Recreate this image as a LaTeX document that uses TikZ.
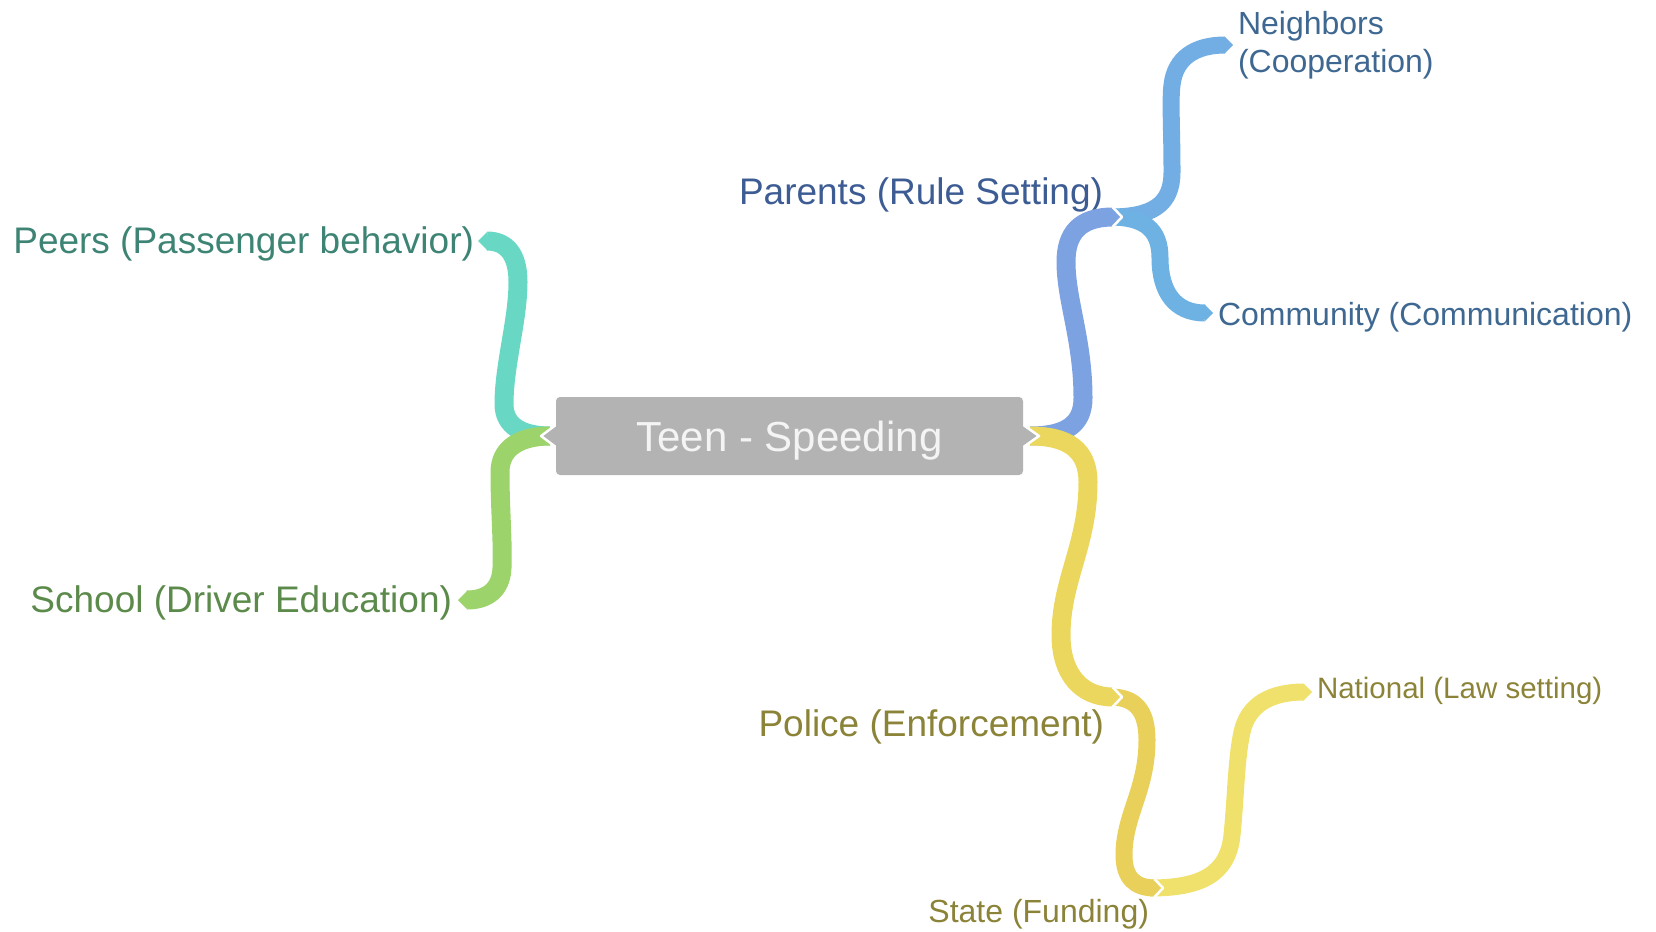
\documentclass[tikz,border=0pt]{standalone}
\usepackage{fontspec}
\setmainfont{Liberation Sans}
\begin{document}
\begin{tikzpicture}[x=1pt,y=-1pt,line cap=butt,line join=round,
  lone/.style={line width=19pt},
  ltwo/.style={line width=17pt},
  halo/.style={draw=white,line width=2.5pt},
  lbl/.style={inner sep=0pt,outer sep=0pt},
  fA/.style={font=\fontsize{37}{44}\selectfont},
  fB/.style={font=\fontsize{32}{37}\selectfont},
  fC/.style={font=\fontsize{29.5}{35}\selectfont},
  box/.style={rectangle,rounded corners=4pt,fill=cbox,text=tbox,minimum width=467pt,minimum height=78pt,inner sep=0pt,text depth=0pt,font=\fontsize{42}{50}\selectfont}]
\definecolor{cteal}{HTML}{68D8C5}\definecolor{tpeers}{HTML}{3E8474}
\definecolor{cgreen}{HTML}{9CD46B}\definecolor{tschool}{HTML}{5B8A4B}
\definecolor{cparent}{HTML}{7CA2E2}\definecolor{tparent}{HTML}{3D5C94}
\definecolor{cnb}{HTML}{72AEE4}\definecolor{ccom}{HTML}{6EB2E3}\definecolor{tnb}{HTML}{3E6891}
\definecolor{cpolice}{HTML}{EBD75E}\definecolor{cstate}{HTML}{E9D05A}\definecolor{cnat}{HTML}{F0E16C}
\definecolor{tyel}{HTML}{8B8338}
\definecolor{cbox}{HTML}{B3B3B3}\definecolor{tbox}{HTML}{F4F4F4}
\useasboundingbox (0,0) rectangle (1656,931);

% labels
\node[lbl,fA,text=tpeers,anchor=base east] (peers) at (474,253.5) {Peers (Passenger behavior)};
\node[lbl,fA,text=tschool,anchor=base east] (school) at (452,612.5) {School (Driver Education)};
\node[lbl,fA,text=tparent,anchor=base east] (parents) at (1103,204) {Parents (Rule Setting)};
\node[lbl,fA,text=tyel,anchor=base east] (police) at (1104,736) {Police (Enforcement)};
\node[lbl,fB,text=tnb,anchor=base west] (nb1) at (1238,35) {Neighbors};
\node[lbl,fB,text=tnb,anchor=base west] (nb2) at (1238,72.5) {(Cooperation)};
\node[lbl,fB,text=tnb,anchor=base west] (comm) at (1218,325) {Community (Communication)};
\node[lbl,fC,text=tyel,anchor=base west] (national) at (1317,698) {National (Law setting)};
\node[lbl,fB,text=tyel,anchor=base east] (state) at (1149,922) {State (Funding)};

% junction points
\coordinate (cL) at (541,436);
\coordinate (cR) at (1039,436);
\coordinate (jPar) at (1122,217);
\coordinate (jPol) at (1122,697);
\coordinate (jSta) at (1163,888);
\coordinate (tPeers) at (478,241);
\coordinate (tSchool) at (458,600);
\coordinate (tNb) at (1233,45);
\coordinate (tCom) at (1213,313);
\coordinate (tNat) at (1312,692);

% National (State -> National)
\draw[ltwo,cnat] ([xshift=-13pt]jSta) .. controls (1200,888) and (1228,875) .. (1232,835)
  .. controls (1236,795) and (1236,760) .. (1242,732)
  .. controls (1248,705) and (1270,692) .. ([xshift=-8pt]tNat);
\fill[cnat] ([xshift=-8.5pt,yshift=-8.5pt]tNat) -- (tNat) -- ([xshift=-8.5pt,yshift=8.5pt]tNat) -- cycle;

% State (Police -> State)
\draw[ltwo,cstate] ([xshift=-12pt]jPol) .. controls (1135,697) and (1147,710) .. (1147,740)
  .. controls (1147,790) and (1124,815) .. (1124,855)
  .. controls (1124,878) and (1135,888) .. ([xshift=-8pt]jSta);
\fill[cstate] ([xshift=-8.5pt,yshift=-8.5pt]jSta) -- (jSta) -- ([xshift=-8.5pt,yshift=8.5pt]jSta) -- cycle;
\draw[halo] ([xshift=-8.5pt,yshift=-9pt]jSta) -- (jSta) -- ([xshift=-8.5pt,yshift=9pt]jSta);

% Neighbors and Community (Parents -> ...)
\draw[ltwo,cnb] ([xshift=-12pt]jPar) .. controls (1152,217) and (1172,205) .. (1172,172)
  .. controls (1172,130) and (1170,100) .. (1172,85)
  .. controls (1175,58) and (1195,45) .. ([xshift=-8pt]tNb);
\fill[cnb] ([xshift=-8.5pt,yshift=-8.5pt]tNb) -- (tNb) -- ([xshift=-8.5pt,yshift=8.5pt]tNb) -- cycle;
\draw[ltwo,ccom] ([xshift=-12pt]jPar) .. controls (1145,217) and (1160,230) .. (1160,258)
  .. controls (1160,292) and (1175,313) .. ([xshift=-8pt]tCom);
\fill[ccom] ([xshift=-8.5pt,yshift=-8.5pt]tCom) -- (tCom) -- ([xshift=-8.5pt,yshift=8.5pt]tCom) -- cycle;

% Parents (center -> Parents)
\draw[lone,cparent] ([xshift=-9pt]cR) .. controls (1065,436) and (1083,425) .. (1083,398)
  .. controls (1083,340) and (1066,300) .. (1066,262)
  .. controls (1066,233) and (1080,217) .. ([xshift=-9pt]jPar);
\fill[cparent] ([xshift=-9.5pt,yshift=-9.5pt]jPar) -- (jPar) -- ([xshift=-9.5pt,yshift=9.5pt]jPar) -- cycle;
\draw[halo] ([xshift=-9.5pt,yshift=-10pt]jPar) -- (jPar) -- ([xshift=-9.5pt,yshift=10pt]jPar);

% Police (center -> Police)
\draw[lone,cpolice] ([xshift=-9pt]cR) .. controls (1068,436) and (1088,450) .. (1088,482)
  .. controls (1088,545) and (1061,580) .. (1061,635)
  .. controls (1061,675) and (1082,697) .. ([xshift=-9pt]jPol);
\fill[cpolice] ([xshift=-9.5pt,yshift=-9.5pt]jPol) -- (jPol) -- ([xshift=-9.5pt,yshift=9.5pt]jPol) -- cycle;
\draw[halo] ([xshift=-9.5pt,yshift=-10pt]jPol) -- (jPol) -- ([xshift=-9.5pt,yshift=10pt]jPol);

% Peers and School (center -> left)
\draw[lone,cteal] ([xshift=9pt]cL) .. controls (522,436) and (504,426) .. (504,404)
  .. controls (504,365) and (518,320) .. (518,282)
  .. controls (518,255) and (507,241) .. ([xshift=9pt]tPeers);
\fill[cteal] ([xshift=9.5pt,yshift=-9.5pt]tPeers) -- (tPeers) -- ([xshift=9.5pt,yshift=9.5pt]tPeers) -- cycle;
\draw[lone,cgreen] ([xshift=9pt]cL) .. controls (520,436) and (500,448) .. (500,472)
  .. controls (500,510) and (503,540) .. (502,568)
  .. controls (501,590) and (487,600) .. ([xshift=9pt]tSchool);
\fill[cgreen] ([xshift=9.5pt,yshift=-9.5pt]tSchool) -- (tSchool) -- ([xshift=9.5pt,yshift=9.5pt]tSchool) -- cycle;

% center box with pointed sides
\fill[cbox] (557,425) -- (cL) -- (557,447) -- cycle;
\draw[halo] (557,424) -- (cL) -- (557,448);
\fill[cbox] (1022,425) -- (cR) -- (1022,447) -- cycle;
\draw[halo] (1022,424) -- (cR) -- (1022,448);
\node[box] (center) at (789.5,436) {Teen - Speeding};
\end{tikzpicture}
\end{document}
